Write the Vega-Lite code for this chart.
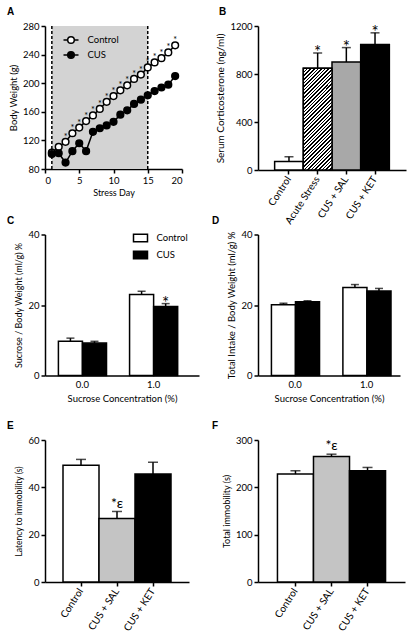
{
"$schema":"https://vega.github.io/schema/vega-lite/v6.json",
"background":"white",
"padding":{"left":7,"top":7,"right":2,"bottom":2},
"columns":2,
"bounds":"flush",
"spacing":{"row":64.5,"column":59},
"resolve":{"scale":{"fill":"independent"},"legend":{"fill":"independent"}},
"config":{
 "font":"Lato",
 "view":{"stroke":null},
 "axis":{"domainColor":"black","domainWidth":1.5,"tickColor":"black","tickWidth":1.5,"tickSize":4,"labelColor":"black","titleColor":"black","labelFontSize":9.5,"titleFontSize":9,"titleFontWeight":"normal","grid":false,"labelPadding":2,"labelFont":"Lato","titleFont":"Lato"},
 "title":{"font":"Liberation Sans","fontSize":10,"fontWeight":"bold","anchor":"start","frame":"group","color":"black","offset":4},
 "legend":{"labelFont":"Lato","labelFontSize":9.5,"labelColor":"black","padding":0}
},
"datasets":{
 "weight":[
  {"day":1,"group":"Control","w":103,"sig":""},{"day":2,"group":"Control","w":111,"sig":""},{"day":3,"group":"Control","w":118,"sig":"*"},{"day":4,"group":"Control","w":130,"sig":"*"},{"day":5,"group":"Control","w":138,"sig":"*"},{"day":6,"group":"Control","w":147,"sig":"*"},{"day":7,"group":"Control","w":155,"sig":"*"},{"day":8,"group":"Control","w":164,"sig":"*"},{"day":9,"group":"Control","w":174,"sig":"*"},{"day":10,"group":"Control","w":182,"sig":"*"},{"day":11,"group":"Control","w":190,"sig":"*"},{"day":12,"group":"Control","w":197,"sig":"*"},{"day":13,"group":"Control","w":206,"sig":"*"},{"day":14,"group":"Control","w":212,"sig":"*"},{"day":15,"group":"Control","w":222,"sig":"*"},{"day":16,"group":"Control","w":229,"sig":"*"},{"day":17,"group":"Control","w":235,"sig":"*"},{"day":18,"group":"Control","w":243,"sig":"*"},{"day":19,"group":"Control","w":253,"sig":"*"},
  {"day":1,"group":"CUS","w":101,"sig":""},{"day":2,"group":"CUS","w":102,"sig":""},{"day":3,"group":"CUS","w":89,"sig":""},{"day":4,"group":"CUS","w":105,"sig":""},{"day":5,"group":"CUS","w":116,"sig":""},{"day":6,"group":"CUS","w":105,"sig":""},{"day":7,"group":"CUS","w":132,"sig":""},{"day":8,"group":"CUS","w":137,"sig":""},{"day":9,"group":"CUS","w":141,"sig":""},{"day":10,"group":"CUS","w":146,"sig":""},{"day":11,"group":"CUS","w":156,"sig":""},{"day":12,"group":"CUS","w":162,"sig":""},{"day":13,"group":"CUS","w":171,"sig":""},{"day":14,"group":"CUS","w":177,"sig":""},{"day":15,"group":"CUS","w":183,"sig":""},{"day":16,"group":"CUS","w":189,"sig":""},{"day":17,"group":"CUS","w":194,"sig":""},{"day":18,"group":"CUS","w":198,"sig":""},{"day":19,"group":"CUS","w":210,"sig":""}
 ],
 "cort":[
  {"g":"Control","m":70,"hi":110,"star":""},
  {"g":"Acute Stress","m":848,"hi":975,"star":"*"},
  {"g":"CUS + SAL","m":900,"hi":1020,"star":"*"},
  {"g":"CUS + KET","m":1045,"hi":1143,"star":"*"}
 ],
 "sucrose":[
  {"conc":"0.0","g":"Control","m":9.7,"hi":10.6,"star":""},
  {"conc":"0.0","g":"CUS","m":9.2,"hi":9.7,"star":""},
  {"conc":"1.0","g":"Control","m":23.0,"hi":23.9,"star":""},
  {"conc":"1.0","g":"CUS","m":19.6,"hi":20.4,"star":"*"}
 ],
 "intake":[
  {"conc":"0.0","g":"Control","m":20.1,"hi":20.5},
  {"conc":"0.0","g":"CUS","m":20.9,"hi":21.2},
  {"conc":"1.0","g":"Control","m":25.0,"hi":25.8},
  {"conc":"1.0","g":"CUS","m":24.0,"hi":24.7}
 ],
 "latency":[
  {"g":"Control","m":49.3,"hi":51.8,"note":""},
  {"g":"CUS + SAL","m":26.8,"hi":29.8,"note":"*ε"},
  {"g":"CUS + KET","m":45.6,"hi":50.6,"note":""}
 ],
 "immob":[
  {"g":"Control","m":228,"hi":235,"note":""},
  {"g":"CUS + SAL","m":265,"hi":270,"note":"*ε"},
  {"g":"CUS + KET","m":235,"hi":242,"note":""}
 ]
},
"concat":[
 {
  "width":137,"height":143,
  "title":{"text":"A","dx":-38},
  "encoding":{"x":{"field":"day","type":"quantitative","scale":{"domain":[0,20],"nice":false},"axis":{"values":[0,5,10,15,20],"title":"Stress Day","titlePadding":4,"titleFontSize":9}}},
  "layer":[
   {"data":{"values":[{"day":1,"day2":15}]},"mark":{"type":"rect","color":"#d3d3d3"},"encoding":{"x2":{"field":"day2"}}},
   {"data":{"values":[{"day":1},{"day":15}]},"mark":{"type":"rule","color":"black","strokeWidth":1.5,"strokeDash":[3,2]},"encoding":{}},
   {"data":{"name":"weight"},
    "encoding":{"y":{"field":"w","type":"quantitative","title":"Body Weight (g)","scale":{"domain":[80,280],"nice":false,"zero":false},"axis":{"values":[80,120,160,200,240,280],"titleFontSize":9.5}}},
    "layer":[
     {"mark":{"type":"line","color":"black","strokeWidth":1.5},"encoding":{"detail":{"field":"group"}}},
     {"mark":{"type":"point","filled":true,"stroke":"black","strokeWidth":1.5,"size":45,"opacity":1},
      "encoding":{"fill":{"field":"group","type":"nominal","scale":{"domain":["Control","CUS"],"range":["white","black"]},
       "legend":{"title":null,"orient":"none","legendX":17.5,"legendY":5.5,"symbolType":"M-1,0H-0.44M0.44,0H1M0.44,0A0.44,0.44,0,1,1,-0.44,0A0.44,0.44,0,1,1,0.44,0Z","symbolSize":225,"symbolStrokeColor":"black","symbolStrokeWidth":1.5,"labelOffset":8,"rowPadding":0}}}},
     {"mark":{"type":"text","fontSize":9,"dy":-2,"baseline":"alphabetic","color":"black"},"encoding":{"text":{"field":"sig"}}}
    ]}
  ]
 },
 {
  "width":148,"height":144,
  "title":{"text":"B","dx":-39},
  "data":{"name":"cort"},
  "encoding":{"x":{"field":"g","type":"nominal","sort":["Control","Acute Stress","CUS + SAL","CUS + KET"],"scale":{"paddingInner":0,"paddingOuter":0.58},"axis":{"title":null,"labelAngle":-57,"labelAlign":"right","labelBaseline":"middle","labelPadding":3,"labelFontSize":10}}},
  "layer":[
   {"mark":{"type":"bar","stroke":"black","strokeWidth":1.5},
    "encoding":{"y":{"field":"m","type":"quantitative","title":"Serum Corticosterone (ng/ml)","scale":{"domain":[0,1200],"nice":false},"axis":{"values":[0,400,800,1200],"format":"d","titleFontSize":10}},
     "fill":{"field":"g","type":"nominal","scale":{"domain":["Control","Acute Stress","CUS + SAL","CUS + KET"],"range":["white","white","#a8a8a8","black"]},"legend":null}}},
   {"transform":[{"filter":"datum.g === 'Acute Stress'"}],
    "mark":{"type":"bar","stroke":"black","strokeWidth":1.5,"fill":{"gradient":"linear","x1":0,"y1":0,"x2":0.336,"y2":1.188,"stops":[
{"offset":0,"color":"#000"},{"offset":0.0125,"color":"#000"},{"offset":0.0125,"color":"#fff"},{"offset":0.02778,"color":"#fff"},
{"offset":0.02778,"color":"#000"},{"offset":0.04028,"color":"#000"},{"offset":0.04028,"color":"#fff"},{"offset":0.05556,"color":"#fff"},
{"offset":0.05556,"color":"#000"},{"offset":0.06806,"color":"#000"},{"offset":0.06806,"color":"#fff"},{"offset":0.08333,"color":"#fff"},
{"offset":0.08333,"color":"#000"},{"offset":0.09583,"color":"#000"},{"offset":0.09583,"color":"#fff"},{"offset":0.11111,"color":"#fff"},
{"offset":0.11111,"color":"#000"},{"offset":0.12361,"color":"#000"},{"offset":0.12361,"color":"#fff"},{"offset":0.13889,"color":"#fff"},
{"offset":0.13889,"color":"#000"},{"offset":0.15139,"color":"#000"},{"offset":0.15139,"color":"#fff"},{"offset":0.16667,"color":"#fff"},
{"offset":0.16667,"color":"#000"},{"offset":0.17917,"color":"#000"},{"offset":0.17917,"color":"#fff"},{"offset":0.19444,"color":"#fff"},
{"offset":0.19444,"color":"#000"},{"offset":0.20694,"color":"#000"},{"offset":0.20694,"color":"#fff"},{"offset":0.22222,"color":"#fff"},
{"offset":0.22222,"color":"#000"},{"offset":0.23472,"color":"#000"},{"offset":0.23472,"color":"#fff"},{"offset":0.25,"color":"#fff"},
{"offset":0.25,"color":"#000"},{"offset":0.2625,"color":"#000"},{"offset":0.2625,"color":"#fff"},{"offset":0.27778,"color":"#fff"},
{"offset":0.27778,"color":"#000"},{"offset":0.29028,"color":"#000"},{"offset":0.29028,"color":"#fff"},{"offset":0.30556,"color":"#fff"},
{"offset":0.30556,"color":"#000"},{"offset":0.31806,"color":"#000"},{"offset":0.31806,"color":"#fff"},{"offset":0.33333,"color":"#fff"},
{"offset":0.33333,"color":"#000"},{"offset":0.34583,"color":"#000"},{"offset":0.34583,"color":"#fff"},{"offset":0.36111,"color":"#fff"},
{"offset":0.36111,"color":"#000"},{"offset":0.37361,"color":"#000"},{"offset":0.37361,"color":"#fff"},{"offset":0.38889,"color":"#fff"},
{"offset":0.38889,"color":"#000"},{"offset":0.40139,"color":"#000"},{"offset":0.40139,"color":"#fff"},{"offset":0.41667,"color":"#fff"},
{"offset":0.41667,"color":"#000"},{"offset":0.42917,"color":"#000"},{"offset":0.42917,"color":"#fff"},{"offset":0.44444,"color":"#fff"},
{"offset":0.44444,"color":"#000"},{"offset":0.45694,"color":"#000"},{"offset":0.45694,"color":"#fff"},{"offset":0.47222,"color":"#fff"},
{"offset":0.47222,"color":"#000"},{"offset":0.48472,"color":"#000"},{"offset":0.48472,"color":"#fff"},{"offset":0.5,"color":"#fff"},
{"offset":0.5,"color":"#000"},{"offset":0.5125,"color":"#000"},{"offset":0.5125,"color":"#fff"},{"offset":0.52778,"color":"#fff"},
{"offset":0.52778,"color":"#000"},{"offset":0.54028,"color":"#000"},{"offset":0.54028,"color":"#fff"},{"offset":0.55556,"color":"#fff"},
{"offset":0.55556,"color":"#000"},{"offset":0.56806,"color":"#000"},{"offset":0.56806,"color":"#fff"},{"offset":0.58333,"color":"#fff"},
{"offset":0.58333,"color":"#000"},{"offset":0.59583,"color":"#000"},{"offset":0.59583,"color":"#fff"},{"offset":0.61111,"color":"#fff"},
{"offset":0.61111,"color":"#000"},{"offset":0.62361,"color":"#000"},{"offset":0.62361,"color":"#fff"},{"offset":0.63889,"color":"#fff"},
{"offset":0.63889,"color":"#000"},{"offset":0.65139,"color":"#000"},{"offset":0.65139,"color":"#fff"},{"offset":0.66667,"color":"#fff"},
{"offset":0.66667,"color":"#000"},{"offset":0.67917,"color":"#000"},{"offset":0.67917,"color":"#fff"},{"offset":0.69444,"color":"#fff"},
{"offset":0.69444,"color":"#000"},{"offset":0.70694,"color":"#000"},{"offset":0.70694,"color":"#fff"},{"offset":0.72222,"color":"#fff"},
{"offset":0.72222,"color":"#000"},{"offset":0.73472,"color":"#000"},{"offset":0.73472,"color":"#fff"},{"offset":0.75,"color":"#fff"},
{"offset":0.75,"color":"#000"},{"offset":0.7625,"color":"#000"},{"offset":0.7625,"color":"#fff"},{"offset":0.77778,"color":"#fff"},
{"offset":0.77778,"color":"#000"},{"offset":0.79028,"color":"#000"},{"offset":0.79028,"color":"#fff"},{"offset":0.80556,"color":"#fff"},
{"offset":0.80556,"color":"#000"},{"offset":0.81806,"color":"#000"},{"offset":0.81806,"color":"#fff"},{"offset":0.83333,"color":"#fff"},
{"offset":0.83333,"color":"#000"},{"offset":0.84583,"color":"#000"},{"offset":0.84583,"color":"#fff"},{"offset":0.86111,"color":"#fff"},
{"offset":0.86111,"color":"#000"},{"offset":0.87361,"color":"#000"},{"offset":0.87361,"color":"#fff"},{"offset":0.88889,"color":"#fff"},
{"offset":0.88889,"color":"#000"},{"offset":0.90139,"color":"#000"},{"offset":0.90139,"color":"#fff"},{"offset":0.91667,"color":"#fff"},
{"offset":0.91667,"color":"#000"},{"offset":0.92917,"color":"#000"},{"offset":0.92917,"color":"#fff"},{"offset":0.94444,"color":"#fff"},
{"offset":0.94444,"color":"#000"},{"offset":0.95694,"color":"#000"},{"offset":0.95694,"color":"#fff"},{"offset":0.97222,"color":"#fff"},
{"offset":0.97222,"color":"#000"},{"offset":0.98472,"color":"#000"},{"offset":0.98472,"color":"#fff"},{"offset":1,"color":"#fff"}
    ]}},
    "encoding":{"y":{"field":"m","type":"quantitative","title":"Serum Corticosterone (ng/ml)"}}},
   {"mark":{"type":"rule","color":"black","strokeWidth":1.5},"encoding":{"y":{"field":"m","type":"quantitative","title":"Serum Corticosterone (ng/ml)"},"y2":{"field":"hi"}}},
   {"mark":{"type":"tick","color":"black","thickness":1.5,"size":9},"encoding":{"y":{"field":"hi","type":"quantitative","title":"Serum Corticosterone (ng/ml)"}}},
   {"mark":{"type":"text","fontSize":17,"baseline":"alphabetic","dy":5,"color":"black"},"encoding":{"y":{"field":"hi","type":"quantitative","title":"Serum Corticosterone (ng/ml)"},"text":{"field":"star"}}}
  ]
 },
 {
  "width":154,"height":141,
  "title":{"text":"C","dx":-38},
  "data":{"name":"sucrose"},
  "encoding":{"x":{"field":"conc","type":"nominal","scale":{"paddingInner":0.324,"paddingOuter":0.244,"align":0.386},"axis":{"title":"Sucrose Concentration (%)","titleFontSize":9.5,"labelAngle":0,"ticks":false,"labelPadding":4}},
   "xOffset":{"field":"g","type":"nominal","sort":["Control","CUS"]}},
  "layer":[
   {"mark":{"type":"bar","stroke":"black","strokeWidth":1.5},
    "encoding":{"y":{"field":"m","type":"quantitative","title":"Sucrose / Body Weight (ml/g) %","scale":{"domain":[0,40],"nice":false},"axis":{"values":[0,10,20,30,40],"titleFontSize":9}},
     "fill":{"field":"g","type":"nominal","scale":{"domain":["Control","CUS"],"range":["white","black"]},
      "legend":{"title":null,"orient":"none","legendX":87.5,"legendY":-4.5,"symbolType":"M-1,-0.55H1V0.55H-1Z","symbolSize":196,"symbolStrokeColor":"black","symbolStrokeWidth":1.5,"labelOffset":8,"rowPadding":2,"labelFontSize":9.5}}}},
   {"mark":{"type":"rule","color":"black","strokeWidth":1.5},"encoding":{"y":{"field":"m","type":"quantitative","title":"Sucrose / Body Weight (ml/g) %"},"y2":{"field":"hi"}}},
   {"mark":{"type":"tick","color":"black","thickness":1.5,"size":8},"encoding":{"y":{"field":"hi","type":"quantitative","title":"Sucrose / Body Weight (ml/g) %"}}},
   {"mark":{"type":"text","fontSize":17,"baseline":"alphabetic","dy":5,"color":"black"},"encoding":{"y":{"field":"hi","type":"quantitative","title":"Sucrose / Body Weight (ml/g) %"},"text":{"field":"star"}}}
  ]
 },
 {
  "width":142,"height":141,
  "title":{"text":"D","dx":-46},
  "data":{"name":"intake"},
  "encoding":{"x":{"field":"conc","type":"nominal","scale":{"paddingInner":0.337,"paddingOuter":0.162,"align":0.58},"axis":{"title":"Sucrose Concentration (%)","titleFontSize":9.5,"labelAngle":0,"ticks":false,"labelPadding":4}},
   "xOffset":{"field":"g","type":"nominal","sort":["Control","CUS"]}},
  "layer":[
   {"mark":{"type":"bar","stroke":"black","strokeWidth":1.5},
    "encoding":{"y":{"field":"m","type":"quantitative","title":"Total Intake / Body Weight (ml/g) %","scale":{"domain":[0,40],"nice":false},"axis":{"values":[0,10,20,30,40],"titleFontSize":9.5}},
     "fill":{"field":"g","type":"nominal","scale":{"domain":["Control","CUS"],"range":["white","black"]},"legend":null}}},
   {"mark":{"type":"rule","color":"black","strokeWidth":1.5},"encoding":{"y":{"field":"m","type":"quantitative","title":"Total Intake / Body Weight (ml/g) %"},"y2":{"field":"hi"}}},
   {"mark":{"type":"tick","color":"black","thickness":1.5,"size":8},"encoding":{"y":{"field":"hi","type":"quantitative","title":"Total Intake / Body Weight (ml/g) %"}}}
  ]
 },
 {
  "width":144,"height":142,
  "title":{"text":"E","dx":-38},
  "data":{"name":"latency"},
  "encoding":{"x":{"field":"g","type":"nominal","sort":["Control","CUS + SAL","CUS + KET"],"scale":{"paddingInner":0,"paddingOuter":0.5},"axis":{"title":null,"labelAngle":-57,"labelAlign":"right","labelBaseline":"middle","labelPadding":3,"labelFontSize":10}}},
  "layer":[
   {"mark":{"type":"bar","stroke":"black","strokeWidth":1.5},
    "encoding":{"y":{"field":"m","type":"quantitative","title":"Latency to immobility (s)","scale":{"domain":[0,60],"nice":false},"axis":{"values":[0,20,40,60],"titleFontSize":8.5}},
     "fill":{"field":"g","type":"nominal","scale":{"domain":["Control","CUS + SAL","CUS + KET"],"range":["white","#c4c4c4","black"]},"legend":null}}},
   {"mark":{"type":"rule","color":"black","strokeWidth":1.5},"encoding":{"y":{"field":"m","type":"quantitative","title":"Latency to immobility (s)"},"y2":{"field":"hi"}}},
   {"mark":{"type":"tick","color":"black","thickness":1.5,"size":10},"encoding":{"y":{"field":"hi","type":"quantitative","title":"Latency to immobility (s)"}}},
   {"mark":{"type":"text","fontSize":14,"baseline":"alphabetic","dy":-3,"color":"black"},"encoding":{"y":{"field":"hi","type":"quantitative","title":"Latency to immobility (s)"},"text":{"field":"note"}}}
  ]
 },
 {
  "width":147,"height":142,
  "title":{"text":"F","dx":-46},
  "data":{"name":"immob"},
  "encoding":{"x":{"field":"g","type":"nominal","sort":["Control","CUS + SAL","CUS + KET"],"scale":{"paddingInner":0,"paddingOuter":0.54},"axis":{"title":null,"labelAngle":-57,"labelAlign":"right","labelBaseline":"middle","labelPadding":3,"labelFontSize":10}}},
  "layer":[
   {"mark":{"type":"bar","stroke":"black","strokeWidth":1.5},
    "encoding":{"y":{"field":"m","type":"quantitative","title":"Total immobility (s)","scale":{"domain":[0,300],"nice":false},"axis":{"values":[0,100,200,300],"titleFontSize":9}},
     "fill":{"field":"g","type":"nominal","scale":{"domain":["Control","CUS + SAL","CUS + KET"],"range":["white","#c4c4c4","black"]},"legend":null}}},
   {"mark":{"type":"rule","color":"black","strokeWidth":1.5},"encoding":{"y":{"field":"m","type":"quantitative","title":"Total immobility (s)"},"y2":{"field":"hi"}}},
   {"mark":{"type":"tick","color":"black","thickness":1.5,"size":10},"encoding":{"y":{"field":"hi","type":"quantitative","title":"Total immobility (s)"}}},
   {"mark":{"type":"text","fontSize":14,"baseline":"alphabetic","dy":-4,"color":"black"},"encoding":{"y":{"field":"hi","type":"quantitative","title":"Total immobility (s)"},"text":{"field":"note"}}}
  ]
 }
]
}
